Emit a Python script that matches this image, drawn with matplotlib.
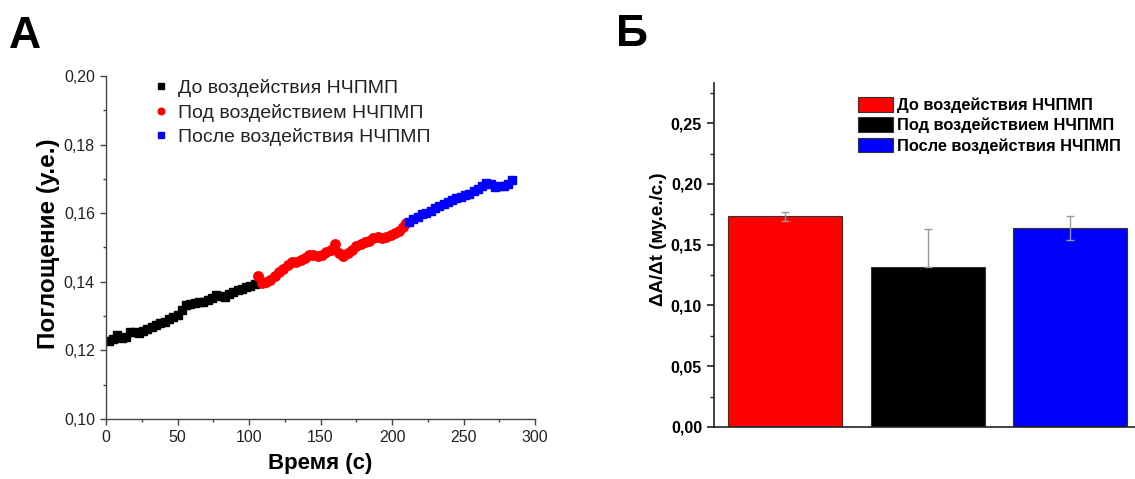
import matplotlib
matplotlib.use("Agg")
import matplotlib.pyplot as plt
from matplotlib.ticker import MultipleLocator, FuncFormatter

plt.rcParams['font.family'] = ['Liberation Sans', 'DejaVu Sans']

# ---- Panel A: absorbance vs time ----
t_before = [2, 5, 8, 11, 14, 17, 20, 23, 26, 29, 32, 35, 38, 41, 44, 47, 50, 53,
            56, 59, 62, 65, 68, 71, 74, 77, 80, 83, 86, 89, 92, 95, 98, 101, 104]
a_before = [0.1228, 0.1234, 0.1245, 0.1237, 0.1240, 0.1254, 0.1255, 0.1252, 0.1256,
            0.1262, 0.1268, 0.1273, 0.1279, 0.1284, 0.1292, 0.1296, 0.1302, 0.1318,
            0.1333, 0.1335, 0.1337, 0.1340, 0.1342, 0.1346, 0.1353, 0.1362, 0.1360,
            0.1357, 0.1363, 0.1370, 0.1375, 0.1380, 0.1386, 0.1388, 0.1394]

t_during = [106, 109, 112, 115, 118, 121, 124, 127, 130, 133, 136, 139, 142, 145,
            148, 151, 154, 157, 160, 163, 166, 169, 172, 175, 178, 181, 184, 187,
            190, 193, 196, 199, 202, 205, 208, 210]
a_during = [0.1417, 0.1397, 0.1400, 0.1406, 0.1418, 0.1428, 0.1436, 0.1450, 0.1459,
            0.1458, 0.1464, 0.1470, 0.1479, 0.1478, 0.1474, 0.1477, 0.1486, 0.1494,
            0.1510, 0.1484, 0.1474, 0.1484, 0.1492, 0.1503, 0.1510, 0.1516, 0.1520,
            0.1528, 0.1530, 0.1527, 0.1532, 0.1537, 0.1543, 0.1549, 0.1560, 0.1570]

t_after = [212, 215, 218, 221, 224, 227, 230, 233, 236, 239, 242, 245, 248, 251,
           254, 257, 260, 263, 266, 269, 272, 275, 278, 281, 284]
a_after = [0.1573, 0.1582, 0.1590, 0.1597, 0.1601, 0.1605, 0.1614, 0.1622, 0.1627,
           0.1633, 0.1638, 0.1643, 0.1648, 0.1652, 0.1657, 0.1664, 0.1672, 0.1679,
           0.1688, 0.1686, 0.1677, 0.1678, 0.1680, 0.1684, 0.1697]

labels_a = ["До воздействия НЧПМП", "Под воздействием НЧПМП", "После воздействия НЧПМП"]

# ---- Panel B: rate of absorbance change ----
groups = ["До воздействия НЧПМП", "Под воздействием НЧПМП", "После воздействия НЧПМП"]
rates = [0.1733, 0.1313, 0.1636]
err_low = [0.0035, 0.0, 0.0097]
err_high = [0.0035, 0.032, 0.0097]
bar_colors = ["#ff0000", "#000000", "#0000ff"]

comma = FuncFormatter(lambda v, p: f"{v:.2f}".replace(".", ","))

fig = plt.figure(figsize=(11.35, 4.79), dpi=100)

axc = "#444444"
txt = "#222222"

# Panel A
axA = fig.add_axes([0.0934, 0.1253, 0.378, 0.716])
axA.plot(t_before, a_before, ls="none", marker="s", ms=6.2, color="black", label=labels_a[0])
axA.plot(t_during, a_during, ls="none", marker="o", ms=6.8, color="#ff0000", label=labels_a[1])
axA.plot(t_after, a_after, ls="none", marker="s", ms=6.2, color="#0000ff", label=labels_a[2])
axA.set_xlim(0, 300)
axA.set_ylim(0.10, 0.20)
axA.xaxis.set_major_locator(MultipleLocator(50))
axA.xaxis.set_minor_locator(MultipleLocator(25))
axA.yaxis.set_major_locator(MultipleLocator(0.02))
axA.yaxis.set_minor_locator(MultipleLocator(0.01))
axA.yaxis.set_major_formatter(comma)
for s in ("top", "right"):
    axA.spines[s].set_visible(False)
for s in ("left", "bottom"):
    axA.spines[s].set_color(axc)
    axA.spines[s].set_linewidth(1.0)
axA.tick_params(which="major", direction="out", length=4.5, width=1, color=axc,
                labelsize=11.5, labelcolor=txt)
axA.tick_params(which="minor", direction="out", length=2.5, width=1, color=axc)
axA.set_xlabel("Время (с)", fontsize=16, fontweight="bold", labelpad=6)
axA.set_ylabel("Поглощение (у.е.)", fontsize=17.5, fontweight="bold")
axA.yaxis.set_label_coords(-0.108, 0.51)
legA = axA.legend(loc="upper left", bbox_to_anchor=(0.08, 1.025), frameon=False,
                  fontsize=14, handlelength=0.9, handletextpad=0.45,
                  labelspacing=0.33, markerscale=0.7, borderaxespad=0.2)
for t in legA.get_texts():
    t.set_color(txt)

# Panel B
axB = fig.add_axes([0.629, 0.1086, 0.3767, 0.718])
xpos = [1, 2, 3]
axB.bar(xpos, rates, width=0.8, color=bar_colors, edgecolor="#333333", linewidth=0.8,
        label=groups, zorder=2)
axB.errorbar(xpos, rates, yerr=[err_low, err_high], fmt="none", ecolor="#999999",
             elinewidth=1.0, capsize=3, capthick=1.0, zorder=3)
axB.set_xlim(0.5, 3.5)
axB.set_ylim(0, 0.283)
axB.set_xticks([])
axB.yaxis.set_major_locator(MultipleLocator(0.05))
axB.yaxis.set_minor_locator(MultipleLocator(0.025))
axB.yaxis.set_major_formatter(comma)
for s in ("top", "right"):
    axB.spines[s].set_visible(False)
for s in ("left", "bottom"):
    axB.spines[s].set_color("#222222")
    axB.spines[s].set_linewidth(1.2)
axB.tick_params(which="major", direction="out", length=5, width=1.2, color="#222222",
                labelsize=11.5)
axB.tick_params(which="minor", direction="out", length=3, width=1.0, color="#222222")
for lab in axB.get_yticklabels():
    lab.set_fontweight("bold")
axB.set_ylabel("ΔA/Δt (му.е./с.)", fontsize=13.5, fontweight="bold")
axB.yaxis.set_label_coords(-0.11, 0.545)
legB = axB.legend(loc="upper left", bbox_to_anchor=(0.321, 0.978), frameon=False,
                  prop={"size": 11.8, "weight": "bold"}, handlelength=2.15,
                  handleheight=1.0, handletextpad=0.25, labelspacing=0.26,
                  borderaxespad=0.0)

fig.text(0.008, 0.90, "А", fontsize=32, fontweight="bold", ha="left", va="baseline")
fig.text(0.543, 0.905, "Б", fontsize=32, fontweight="bold", ha="left", va="baseline")

fig.savefig("out.png", dpi=100)
